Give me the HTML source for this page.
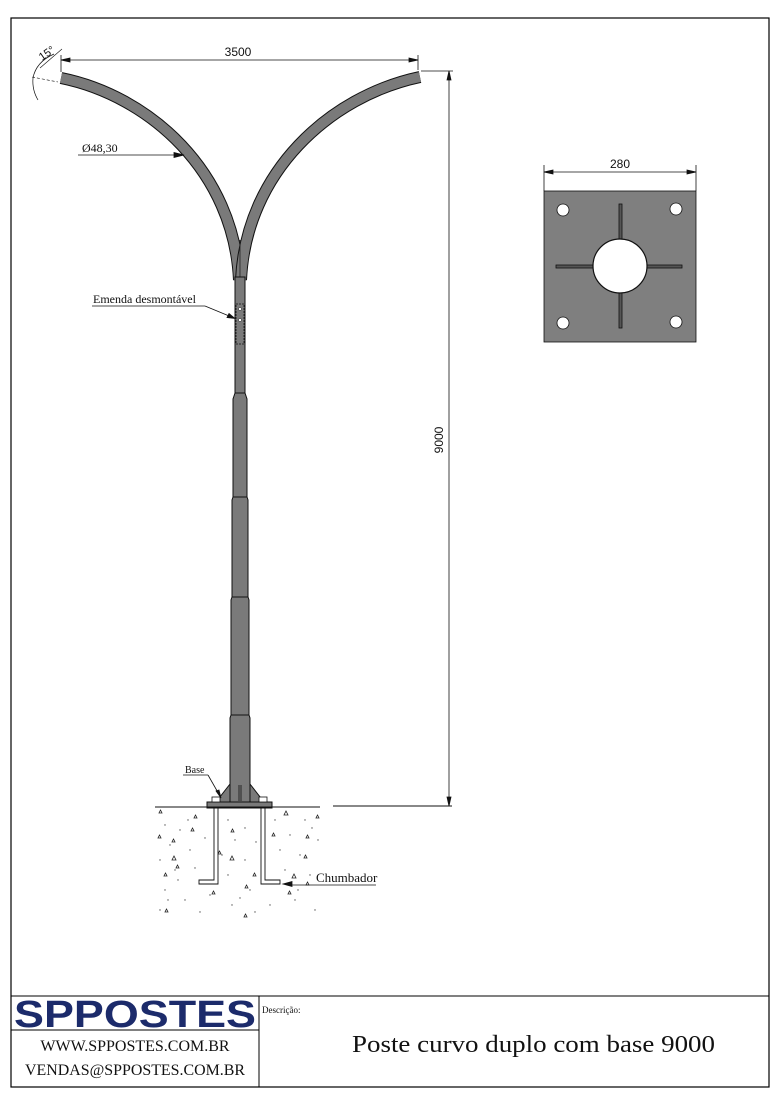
<!DOCTYPE html>
<html><head><meta charset="utf-8"><style>
html,body{margin:0;padding:0;background:#fff}
svg{display:block}
</style></head><body>
<svg width="780" height="1104" viewBox="0 0 780 1104" xmlns="http://www.w3.org/2000/svg">
<rect x="0" y="0" width="780" height="1104" fill="#fff"/>
<rect x="11" y="18" width="758" height="1069" fill="none" stroke="#000" stroke-width="1.2"/>
<line x1="11" y1="996" x2="769" y2="996" stroke="#000" stroke-width="1"/>
<line x1="259" y1="996" x2="259" y2="1087" stroke="#000" stroke-width="1"/>
<line x1="11" y1="1030" x2="259" y2="1030" stroke="#000" stroke-width="1"/>

<g fill="none" stroke-linecap="butt">
<path d="M61,78 C150,96 234,172 239,280" stroke="#111" stroke-width="12"/>
<path d="M61,78 C150,96 234,172 239,280" stroke="#7a7a7a" stroke-width="10"/>
<path d="M420,77 C330,96 246,172 241,280" stroke="#111" stroke-width="12"/>
<path d="M420,77 C330,96 246,172 241,280" stroke="#7a7a7a" stroke-width="10"/>
</g>
<line x1="240" y1="240" x2="240" y2="278" stroke="#222" stroke-width="0.8"/>

<g fill="#7a7a7a" stroke="#111" stroke-width="1">
<rect x="235" y="277" width="10" height="116"/>
<path d="M235,393 L233,399 L233,497 L247,497 L247,399 L245,393 Z"/>
<path d="M233,497 L232,500 L232,597 L248,597 L248,500 L247,497 Z"/>
<path d="M232,597 L231,600 L231,715 L249,715 L249,600 L248,597 Z"/>
<path d="M231,715 L230,718 L230,802 L250,802 L250,718 L249,715 Z"/>
<path d="M230,784 L216,802 L230,802 Z"/>
<path d="M250,784 L264,802 L250,802 Z"/>
<rect x="207" y="802" width="65" height="6"/>
</g>
<line x1="239" y1="785" x2="239" y2="801" stroke="#111" stroke-width="0.8"/>
<line x1="241" y1="785" x2="241" y2="801" stroke="#111" stroke-width="0.8"/>
<rect x="236" y="304" width="8" height="40" fill="none" stroke="#111" stroke-width="0.8" stroke-dasharray="2,1"/>
<circle cx="240" cy="309" r="1.6" fill="#fff" stroke="#111" stroke-width="0.5"/>
<circle cx="240" cy="320" r="1.6" fill="#fff" stroke="#111" stroke-width="0.5"/>
<rect x="212" y="797" width="8" height="5" fill="#fff" stroke="#111" stroke-width="0.8"/>
<rect x="259" y="797" width="8" height="5" fill="#fff" stroke="#111" stroke-width="0.8"/>

<line x1="155" y1="807" x2="320" y2="807" stroke="#111" stroke-width="1"/>
<line x1="333" y1="806" x2="452" y2="806" stroke="#111" stroke-width="1"/>
<path d="M214,808 L214,880 L199,880 L199,884 L218,884 L218,808 Z" fill="#fff" stroke="#111" stroke-width="0.9"/>
<path d="M261,808 L261,884 L280,884 L280,880 L265,880 L265,808 Z" fill="#fff" stroke="#111" stroke-width="0.9"/>
<g fill="#555">
<circle cx="165" cy="825" r="0.7"/><circle cx="180" cy="830" r="0.7"/><circle cx="170" cy="845" r="0.7"/><circle cx="190" cy="850" r="0.7"/>
<circle cx="160" cy="860" r="0.7"/><circle cx="175" cy="870" r="0.7"/><circle cx="195" cy="868" r="0.7"/><circle cx="165" cy="890" r="0.7"/>
<circle cx="185" cy="900" r="0.7"/><circle cx="160" cy="910" r="0.7"/><circle cx="200" cy="912" r="0.7"/><circle cx="210" cy="895" r="0.7"/>
<circle cx="228" cy="820" r="0.7"/><circle cx="235" cy="840" r="0.7"/><circle cx="245" cy="860" r="0.7"/><circle cx="228" cy="875" r="0.7"/>
<circle cx="250" cy="890" r="0.7"/><circle cx="232" cy="905" r="0.7"/><circle cx="255" cy="912" r="0.7"/><circle cx="245" cy="828" r="0.7"/>
<circle cx="275" cy="820" r="0.7"/><circle cx="290" cy="835" r="0.7"/><circle cx="300" cy="855" r="0.7"/><circle cx="285" cy="870" r="0.7"/>
<circle cx="310" cy="875" r="0.7"/><circle cx="295" cy="900" r="0.7"/><circle cx="315" cy="910" r="0.7"/><circle cx="305" cy="820" r="0.7"/>
<circle cx="270" cy="905" r="0.7"/><circle cx="222" cy="855" r="0.7"/><circle cx="178" cy="880" r="0.7"/><circle cx="318" cy="840" r="0.7"/>
<circle cx="168" cy="900" r="0.7"/><circle cx="188" cy="820" r="0.7"/><circle cx="205" cy="838" r="0.7"/><circle cx="240" cy="898" r="0.7"/>
<circle cx="280" cy="850" r="0.7"/><circle cx="298" cy="890" r="0.7"/><circle cx="312" cy="828" r="0.7"/><circle cx="256" cy="842" r="0.7"/>
</g>
<g fill="none" stroke="#222" stroke-width="0.8">
<path d="M159,813 l3,0 l-1.5,-3z"/><path d="M194,818 l3,0 l-1.5,-3z"/><path d="M284,815 l4,0 l-2,-4z"/><path d="M316,818 l3,0 l-1.5,-3z"/>
<path d="M191,831 l3,0 l-1.5,-3z"/><path d="M158,838 l3,0 l-1.5,-3z"/><path d="M172,842 l3,0 l-1.5,-3z"/><path d="M231,832 l3,0 l-1.5,-3z"/>
<path d="M272,836 l3,0 l-1.5,-3z"/><path d="M306,838 l3,0 l-1.5,-3z"/><path d="M172,860 l4,0 l-2,-4z"/><path d="M230,860 l4,0 l-2,-4z"/>
<path d="M176,868 l3,0 l-1.5,-3z"/><path d="M218,854 l3,0 l-1.5,-3z"/><path d="M304,858 l3,0 l-1.5,-3z"/><path d="M253,876 l3,0 l-1.5,-3z"/>
<path d="M164,876 l3,0 l-1.5,-3z"/><path d="M292,878 l4,0 l-2,-4z"/><path d="M212,894 l3,0 l-1.5,-3z"/><path d="M245,888 l3,0 l-1.5,-3z"/>
<path d="M288,894 l3,0 l-1.5,-3z"/><path d="M165,912 l3,0 l-1.5,-3z"/><path d="M244,917 l3,0 l-1.5,-3z"/><path d="M306,885 l3,0 l-1.5,-3z"/>
</g>

<g stroke="#111" stroke-width="0.8" fill="#111">
<line x1="92" y1="306" x2="205" y2="306"/><line x1="205" y1="306" x2="234" y2="318"/>
<path d="M235,318.5 l-8,-1 l2,-4z"/>
<line x1="78" y1="155" x2="184" y2="155"/><path d="M184,155 l-10,-2.5 l0,5z"/>
<line x1="183" y1="775" x2="208" y2="775"/><line x1="208" y1="775" x2="220" y2="796"/><path d="M221,798 l-5,-7 l3,-1z"/>
<line x1="289" y1="885" x2="376" y2="885"/><path d="M283,884 l9,-2.5 l0,5z"/>
</g>

<g stroke="#111" stroke-width="0.8" fill="#111">
<line x1="61" y1="60" x2="418" y2="60"/>
<line x1="61" y1="55" x2="61" y2="72"/>
<line x1="418" y1="55" x2="418" y2="70"/>
<path d="M61,60 l9,-2 l0,4z"/><path d="M418,60 l-9,-2 l0,4z"/>
<line x1="421" y1="71" x2="453" y2="71"/>
<line x1="449" y1="71" x2="449" y2="806"/>
<path d="M449,71 l-2,9 l4,0z"/><path d="M449,806 l-2,-9 l4,0z"/>
<line x1="40" y1="68" x2="62" y2="49" stroke-width="0.6"/>
<line x1="32" y1="77" x2="58" y2="82" stroke-width="0.6" stroke-dasharray="3,2"/>
<path d="M54,54 Q36,62 33,78 Q32,90 38,100" fill="none" stroke-width="0.7"/>
</g>
<g font-family="Liberation Sans, sans-serif" font-size="12" fill="#111">
<text x="238" y="56" text-anchor="middle">3500</text>
<text x="0" y="0" text-anchor="middle" transform="translate(443,440) rotate(-90)">9000</text>
<text x="0" y="0" transform="translate(42,61) rotate(-35)" font-size="11">15°</text>
<text x="620" y="168" text-anchor="middle">280</text>
</g>
<g font-family="Liberation Serif, serif" fill="#111">
<text x="82" y="152" font-size="12">Ø48,30</text>
<text x="93" y="303" font-size="12">Emenda desmontável</text>
<text x="185" y="773" font-size="10">Base</text>
<text x="316" y="882" font-size="13">Chumbador</text>
</g>

<g stroke="#111" stroke-width="0.8">
<line x1="544" y1="172" x2="696" y2="172"/>
<line x1="544" y1="165" x2="544" y2="191"/>
<line x1="696" y1="165" x2="696" y2="191"/>
<path d="M544,172 l9,-2 l0,4z" fill="#111"/><path d="M696,172 l-9,-2 l0,4z" fill="#111"/>
<rect x="544" y="191" width="152" height="151" fill="#7f7f7f"/>
<rect x="619" y="204" width="3" height="124" fill="#555"/>
<rect x="556" y="265" width="126" height="3" fill="#555"/>
<circle cx="620" cy="266" r="27" fill="#fff" stroke-width="1.2"/>
<circle cx="563" cy="210" r="6" fill="#fff"/>
<circle cx="676" cy="209" r="6" fill="#fff"/>
<circle cx="563" cy="323" r="6" fill="#fff"/>
<circle cx="676" cy="322" r="6" fill="#fff"/>
</g>

<text x="14" y="1027" font-family="Liberation Sans, sans-serif" font-weight="bold" font-size="38" fill="#1c2b6b" textLength="242" lengthAdjust="spacingAndGlyphs">SPPOSTES</text>
<g font-family="Liberation Serif, serif" fill="#111">
<text x="135" y="1051" font-size="16" text-anchor="middle">WWW.SPPOSTES.COM.BR</text>
<text x="135" y="1075" font-size="16" text-anchor="middle" textLength="220" lengthAdjust="spacingAndGlyphs">VENDAS@SPPOSTES.COM.BR</text>
<text x="262" y="1013" font-size="9">Descrição:</text>
<text x="352" y="1052" font-size="24" textLength="363" lengthAdjust="spacingAndGlyphs">Poste  curvo duplo com base 9000</text>
</g>
</svg>
</body></html>
